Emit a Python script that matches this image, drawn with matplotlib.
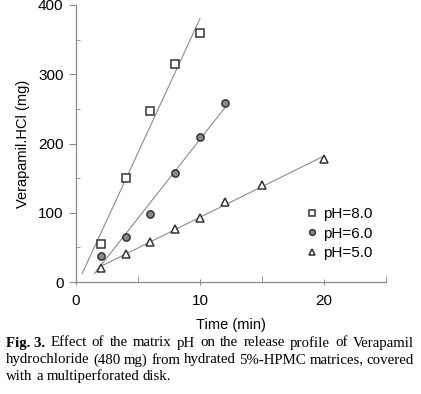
import numpy as np
import matplotlib

matplotlib.use("Agg")
import matplotlib.pyplot as plt

# release data (time in min, Verapamil.HCl in mg)
t_ph8 = [2, 4, 6, 8, 10]
y_ph8 = [55, 150, 247, 315, 360]

t_ph6 = [2, 4, 6, 8, 10, 12]
y_ph6 = [38, 65, 98, 157, 210, 258]

t_ph5 = [2, 4, 6, 8, 10, 12, 15, 20]
y_ph5 = [20, 40, 58, 77, 93, 115, 140, 178]

# extent of each fitted line (min)
fit_span_ph8 = (0.5, 10.0)
fit_span_ph6 = (1.5, 12.0)
fit_span_ph5 = (2.0, 20.0)

labels = ["pH=8.0", "pH=6.0", "pH=5.0"]

caption_lines = [
    "Effect of the matrix pH on the release profile of Verapamil",
    "hydrochloride (480 mg) from hydrated 5%-HPMC matrices, covered",
    "with a multiperforated disk.",
]

AX_GRAY = "#8a8a8a"
LINE_GRAY = "#8c8c8c"
EDGE = "#333333"
W, H = 421, 394

plt.rcParams["font.family"] = ["Liberation Sans", "DejaVu Sans"]

fig = plt.figure(figsize=(W / 100, H / 100), dpi=100)
ax = fig.add_axes([76 / W, 1 - 282 / H, (386 - 76) / W, (282 - 5) / H])

series = [
    (t_ph8, y_ph8, fit_span_ph8, dict(marker="s", mfc="white", ms=5.2)),
    (t_ph6, y_ph6, fit_span_ph6, dict(marker="o", mfc="#8a8a8a", ms=5.2)),
    (t_ph5, y_ph5, fit_span_ph5, dict(marker="^", mfc="white", ms=5.8)),
]

for (t, y, span, style), lab in zip(series, labels):
    slope, icpt = np.polyfit(t, y, 1)
    xs = np.array(span)
    ax.plot(xs, slope * xs + icpt, color=LINE_GRAY, lw=0.8, zorder=1)
    ax.plot(t, y, ls="none", mec=EDGE, mew=1.1, label=lab, zorder=2, **style)

ax.set_xlim(0, 25)
ax.set_ylim(0, 400)
ax.set_xticks([0, 10, 20])
ax.set_xticks([5, 15, 25], minor=True)
ax.set_yticks([0, 100, 200, 300, 400])
ax.set_yticks([50, 150, 250, 350], minor=True)

for side in ["top", "right"]:
    ax.spines[side].set_visible(False)
for side in ["left", "bottom"]:
    ax.spines[side].set_color(AX_GRAY)
    ax.spines[side].set_linewidth(0.9)

ax.tick_params(axis="y", which="major", direction="out", length=5, color=AX_GRAY,
               labelsize=11, pad=4)
ax.tick_params(axis="y", which="minor", direction="in", length=3, color=AX_GRAY)
ax.tick_params(axis="x", which="major", direction="inout", length=5, color=AX_GRAY,
               labelsize=11, pad=6)
ax.tick_params(axis="x", which="minor", direction="in", length=4, color=AX_GRAY)

ax.set_xlabel("Time (min)", fontsize=10.5, labelpad=7)
ax.set_ylabel("Verapamil.HCl (mg)", fontsize=10.5, labelpad=6)

ax.legend(loc="lower right", bbox_to_anchor=(1.0, 0.03), frameon=False, fontsize=11,
          handlelength=0.6, handletextpad=0.4, labelspacing=0.35, markerscale=0.8)

# caption, justified between x=6 and x=414 px like the journal layout
cap_font = ["Liberation Serif", "DejaVu Serif"]
cap_size = 10.7
left, right = 6, 414
rend = fig.canvas.get_renderer()


def text_width(s, **kw):
    t = fig.text(0, 0, s, family=cap_font, fontsize=cap_size, **kw)
    w = t.get_window_extent(renderer=rend).width
    t.remove()
    return w


line_y = [343, 360, 376]
space_w = text_width("a b") - text_width("ab")
for i, (line, yy) in enumerate(zip(caption_lines, line_y)):
    words = line.split()
    weights = ["normal"] * len(words)
    if i == 0:
        words = ["Fig. 3."] + words
        weights = ["bold"] + weights
    widths = [text_width(w, weight=wt) for w, wt in zip(words, weights)]
    if i < len(caption_lines) - 1:
        gap = max((right - left - sum(widths)) / (len(words) - 1), 0.5 * space_w)
    else:
        gap = space_w
    x = left
    for w, wt, wd in zip(words, weights, widths):
        fig.text(x / W, 1 - yy / H, w, family=cap_font, fontsize=cap_size,
                 weight=wt, va="center")
        x += wd + gap

fig.savefig("out.png", dpi=100)
